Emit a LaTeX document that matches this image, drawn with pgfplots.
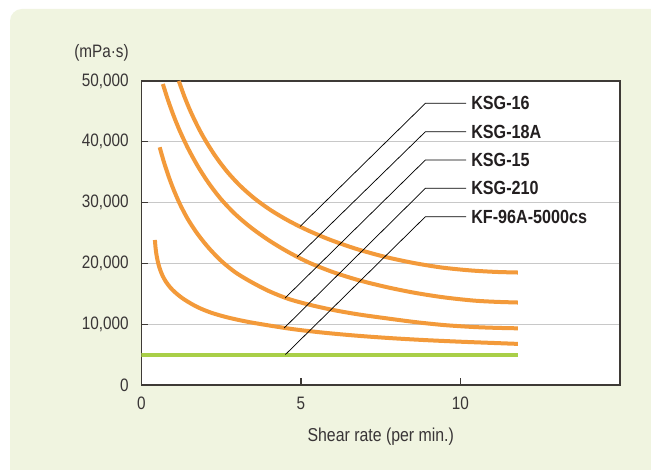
\documentclass[border=0pt]{standalone}
\usepackage{pgfplots}
\pgfplotsset{compat=1.18}
\usepackage{fontspec}
\setmainfont[FakeStretch=0.85]{Liberation Sans}

\definecolor{panel}{RGB}{240,244,224}
\definecolor{curve}{RGB}{243,154,58}
\definecolor{flat}{RGB}{169,207,72}
\definecolor{axiscol}{RGB}{62,58,54}
\definecolor{gridcol}{RGB}{200,200,200}
\definecolor{txt}{RGB}{35,31,32}

\begin{document}
\begin{tikzpicture}
  % picture is 651 x 470 px, 1 px = 0.75pt
  \path[use as bounding box] (0,0) rectangle (488.25pt,352.5pt);
  \fill[white] (0,0) rectangle (488.25pt,352.5pt);
  \fill[panel] (490pt,-2pt) [rounded corners=2pt] -- (7.5pt,-2pt)
    [rounded corners=9pt] -- (7.5pt,345.75pt)
    [rounded corners=2pt] -- (490pt,345.75pt) [sharp corners] -- cycle;

  \begin{axis}[
    at={(106.125pt,63.75pt)}, anchor=south west,
    scale only axis,
    width=358.875pt, height=228pt,
    xmin=0, xmax=15, ymin=0, ymax=50000,
    xtick={0,5,10},
    ytick={0,10000,20000,30000,40000,50000},
    scaled y ticks=false,
    /pgf/number format/assume math mode=true,
    /pgf/number format/1000 sep={,},
    tick pos=left,
    tick align=inside,
    major tick length=5pt,
    tick style={axiscol, line width=0.9pt},
    axis line style={axiscol, line width=1.1pt},
    axis background/.style={fill=white},
    ymajorgrids,
    grid style={gridcol, line width=0.8pt},
    ticklabel style={font=\fontsize{13.5}{16}\selectfont, text=txt!90},
    yticklabel style={inner sep=0pt, anchor=east, xshift=-9.4pt},
    xticklabel style={inner sep=0pt, anchor=north, yshift=-9pt},
    xlabel={Shear rate (per min.)},
    xlabel style={font=\fontsize{14}{16}\selectfont, text=txt!90,
      at={(axis description cs:0.5,0)}, anchor=center, yshift=-39pt},
    every axis plot/.append style={line width=3pt, smooth},
  ]
    % KF-96A-5000cs
    \addplot[flat] coordinates {(0,5000) (11.8,5000)};
    % KSG-210
    \addplot[curve] coordinates {
      (0.42,23850) (0.44,22600) (0.47,21400) (0.52,20100) (0.58,19020)
      (0.66,17980) (0.76,17030) (0.9,16050) (1.05,15255) (1.25,14395)
      (1.5,13545) (1.8,12700) (2.2,11860) (2.7,11110) (3.3,10420)
      (4.0,9790) (4.8,9150) (5.7,8610) (6.7,8130) (7.8,7712) (8.9,7382)
      (10,7118) (11,6918) (11.8,6760)};
    % KSG-15
    \addplot[curve] coordinates {
      (0.57,39100) (0.7,36720) (0.85,34320) (1.0,32220) (1.2,29800)
      (1.45,27300) (1.75,24890) (2.1,22590) (2.5,20410) (2.95,18500)
      (3.45,16915) (4.0,15430) (4.6,14170) (5.25,13220) (6.0,12345)
      (6.8,11610) (7.7,10950) (8.6,10335) (9.5,9850) (10.4,9540)
      (11.1,9400) (11.8,9320)};
    % KSG-18A
    \addplot[curve] coordinates {
      (0.67,49500) (0.82,47020) (1.0,44380) (1.2,41800) (1.45,39010)
      (1.75,36120) (2.1,33250) (2.5,30520) (2.95,28040) (3.45,25820)
      (4.0,23770) (4.6,21870) (5.25,20130) (6.0,18570) (6.8,17250)
      (7.7,16080) (8.6,15130) (9.5,14400) (10.4,13890) (11.1,13680)
      (11.8,13565)};
    % KSG-16
    \addplot[curve] coordinates {
      (1.17,50000) (1.35,47370) (1.55,44850) (1.8,42140) (2.05,39820)
      (2.35,37390) (2.7,34990) (3.1,32730) (3.55,30650) (4.05,28760)
      (4.6,27040) (5.2,25465) (5.9,23910) (6.7,22440) (7.6,21120)
      (8.5,20100) (9.4,19330) (10.3,18850) (11.1,18600) (11.8,18500)};

    % pointer lines and labels
    \draw[black, line width=0.55pt]
      (axis cs:4.97,26070) -- (axis cs:8.9,46330) -- (axis cs:10.18,46330);
    \draw[black, line width=0.55pt]
      (axis cs:4.88,21050) -- (axis cs:8.9,41660) -- (axis cs:10.18,41660);
    \draw[black, line width=0.55pt]
      (axis cs:4.5,14300) -- (axis cs:8.9,37010) -- (axis cs:10.18,37010);
    \draw[black, line width=0.55pt]
      (axis cs:4.47,9360) -- (axis cs:8.9,32350) -- (axis cs:10.18,32350);
    \draw[black, line width=0.55pt]
      (axis cs:4.51,5000) -- (axis cs:8.9,27680) -- (axis cs:10.18,27680);
    \begin{scope}[every node/.style={anchor=west, inner sep=0pt, text=txt,
        font=\bfseries\fontsize{14.25}{16}\selectfont}]
      \node at (axis cs:10.33,46330) {KSG-16};
      \node at (axis cs:10.33,41660) {KSG-18A};
      \node at (axis cs:10.33,37010) {KSG-15};
      \node at (axis cs:10.33,32350) {KSG-210};
      \node at (axis cs:10.33,27680) {KF-96A-5000cs};
    \end{scope}
  \end{axis}

  \node[anchor=east, inner sep=0pt, text=txt!90,
    font=\fontsize{13.5}{16}\selectfont] at (96.75pt,312.75pt) {(mPa·s)};
\end{tikzpicture}
\end{document}
